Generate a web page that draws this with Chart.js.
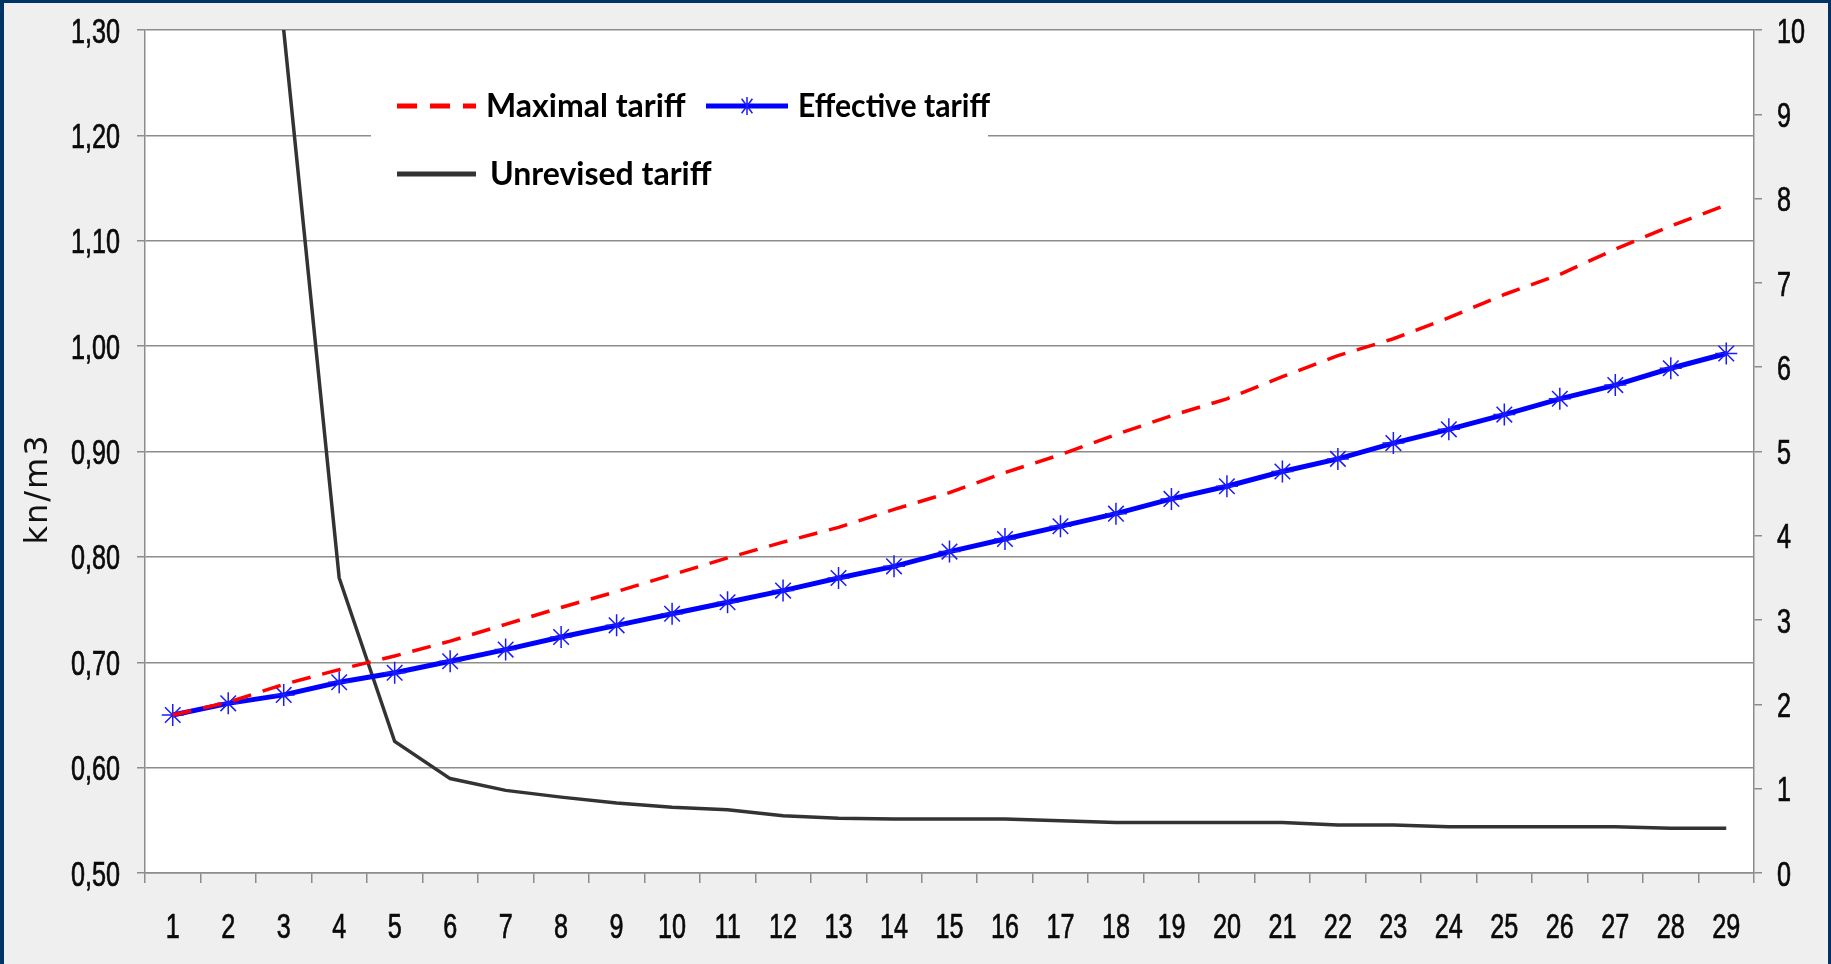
<!DOCTYPE html>
<html>
<head>
<meta charset="utf-8">
<title>Tariff comparison</title>
<script src="https://cdn.jsdelivr.net/npm/chart.js@4.4.1/dist/chart.umd.min.js"></script>
<style>
  html, body { margin: 0; padding: 0; background: #003366; overflow: hidden; }
  #wrap { width: 1831px; height: 964px; }
</style>
</head>
<body>
<div id="wrap"><canvas id="chart" width="1831" height="964"></canvas></div>
<script>
// Year index along the horizontal axis
const years = ['1','2','3','4','5','6','7','8','9','10','11','12','13','14','15',
  '16','17','18','19','20','21','22','23','24','25','26','27','28','29'];

// Left axis tick labels (kn/m3) and right axis tick labels
const leftTickLabels = ['0,50','0,60','0,70','0,80','0,90','1,00','1,10','1,20','1,30'];
const rightTickLabels = ['0','1','2','3','4','5','6','7','8','9','10'];

// Series on the left axis (kn/m3)
const maximalTariff = [0.650, 0.662, 0.679, 0.693, 0.706, 0.720, 0.736, 0.752, 0.767, 0.783,
  0.799, 0.814, 0.828, 0.845, 0.861, 0.880, 0.897, 0.916, 0.934, 0.950,
  0.971, 0.991, 1.007, 1.027, 1.049, 1.068, 1.092, 1.114, 1.134];
const effectiveTariff = [0.650, 0.661, 0.669, 0.681, 0.690, 0.701, 0.712, 0.724, 0.735, 0.746,
  0.757, 0.768, 0.780, 0.791, 0.805, 0.817, 0.829, 0.841, 0.855, 0.867,
  0.881, 0.893, 0.908, 0.921, 0.935, 0.950, 0.963, 0.979, 0.993];

// Series on the right axis
const unrevisedTariff = [25, 15, 10.0, 3.50, 1.56, 1.12, 0.98, 0.90, 0.83, 0.78,
  0.75, 0.68, 0.65, 0.64, 0.64, 0.64, 0.62, 0.60, 0.60, 0.60,
  0.60, 0.57, 0.57, 0.55, 0.55, 0.55, 0.55, 0.53, 0.53];

const GRID = '#8c8c8c';

// Frame, page background and white plotting area
const backdrop = {
  id: 'backdrop',
  beforeDraw(chart) {
    const { ctx, width, height, chartArea: a } = chart;
    ctx.save();
    ctx.fillStyle = '#003366';
    ctx.fillRect(0, 0, width, height);
    ctx.fillStyle = '#efefef';
    ctx.fillRect(4, 3, width - 7, height - 3);
    ctx.fillStyle = '#ffffff';
    ctx.fillRect(a.left, a.top, a.right - a.left, a.bottom - a.top);
    ctx.restore();
  }
};

// Narrow tick labels, placed from each scale's own ticks
const narrowTicks = {
  id: 'narrowTicks',
  afterDraw(chart) {
    const { ctx, scales } = chart;
    const size = 35, squeeze = 0.72, half = size * 0.36;
    ctx.save();
    ctx.fillStyle = '#0a0a0a';
    ctx.strokeStyle = '#0a0a0a';
    ctx.lineWidth = 0.7;
    ctx.font = size + "px 'Liberation Sans', Arial, sans-serif";
    ctx.textBaseline = 'alphabetic';
    const put = (text, x, y, align) => {
      ctx.save();
      ctx.translate(x, y);
      ctx.scale(squeeze, 1);
      ctx.textAlign = align;
      ctx.fillText(text, 0, 0);
      ctx.strokeText(text, 0, 0);
      ctx.restore();
    };
    const y = scales.y, y2 = scales.y2, x = scales.x;
    y.ticks.forEach((t, i) => put(t.label, y.right - 25, y.getPixelForTick(i) + half, 'right'));
    y2.ticks.forEach((t, i) => put(t.label, y2.left + 23, y2.getPixelForTick(i) + half, 'left'));
    x.ticks.forEach((t, i) => put(t.label, x.getPixelForTick(i), x.top + 52 + half, 'center'));
    ctx.restore();
  }
};

// Legend box drawn inside the plotting area
const insetLegend = {
  id: 'insetLegend',
  beforeDatasetsDraw(chart) {
    const { ctx } = chart;
    const ds = chart.data.datasets;
    const slots = [
      { x: 397, y: 106, w: 79, tx: 486 },
      { x: 706, y: 106, w: 82, tx: 798 },
      { x: 397, y: 174, w: 79, tx: 490 }
    ];
    ctx.save();
    ctx.fillStyle = '#ffffff';
    ctx.fillRect(371, 62, 617, 140);
    ds.forEach((d, i) => {
      const s = slots[i];
      ctx.beginPath();
      ctx.strokeStyle = d.borderColor;
      ctx.lineWidth = 5;
      ctx.setLineDash(d.borderDash ? [20, 13] : []);
      ctx.moveTo(s.x, s.y);
      ctx.lineTo(s.x + s.w, s.y);
      ctx.stroke();
      ctx.setLineDash([]);
      if (d.pointStyle === 'star') {
        const cx = s.x + s.w / 2, r = 9;
        ctx.strokeStyle = d.pointBorderColor;
        ctx.lineWidth = 1.5;
        ctx.beginPath();
        ctx.moveTo(cx, s.y - r); ctx.lineTo(cx, s.y + r);
        ctx.moveTo(cx - r * 0.6, s.y - r * 0.8); ctx.lineTo(cx + r * 0.6, s.y + r * 0.8);
        ctx.moveTo(cx - r * 0.6, s.y + r * 0.8); ctx.lineTo(cx + r * 0.6, s.y - r * 0.8);
        ctx.stroke();
      }
      ctx.fillStyle = '#000000';
      ctx.font = "bold 32px Lato, 'Open Sans', sans-serif";
      ctx.textAlign = 'left';
      ctx.textBaseline = 'middle';
      const label = d.label;
      const target = i === 1 ? 192 : null;
      if (target) {
        ctx.save();
        ctx.translate(s.tx, s.y + 1);
        ctx.scale(Math.min(1, target / ctx.measureText(label).width), 1);
        ctx.fillText(label, 0, 0);
        ctx.restore();
      } else {
        ctx.fillText(label, s.tx, s.y + 1);
      }
    });
    ctx.restore();
  }
};

// Left axis unit label
const unitTitle = {
  id: 'unitTitle',
  afterDraw(chart) {
    const { ctx } = chart;
    ctx.save();
    ctx.translate(39, 489);
    ctx.rotate(-Math.PI / 2);
    ctx.fillStyle = '#111111';
    ctx.font = "32px 'DejaVu Sans', sans-serif";
    if ('letterSpacing' in ctx) ctx.letterSpacing = '2px';
    ctx.textAlign = 'center';
    ctx.textBaseline = 'middle';
    ctx.fillText('kn/m3', 0, 0);
    ctx.restore();
  }
};

new Chart(document.getElementById('chart'), {
  type: 'line',
  data: {
    labels: years,
    datasets: [
      {
        label: 'Maximal tariff',
        data: maximalTariff,
        yAxisID: 'y',
        borderColor: '#ff0000',
        borderWidth: 3.5,
        borderDash: [19, 12],
        pointRadius: 0,
        tension: 0,
        clip: 0
      },
      {
        label: 'Effective tariff',
        data: effectiveTariff,
        yAxisID: 'y',
        borderColor: '#0000ff',
        borderWidth: 5,
        pointStyle: 'star',
        pointRadius: 11,
        pointBorderWidth: 1.5,
        pointBorderColor: '#1a1aff',
        pointBackgroundColor: '#1a1aff',
        tension: 0,
        clip: 0
      },
      {
        label: 'Unrevised tariff',
        data: unrevisedTariff,
        yAxisID: 'y2',
        borderColor: '#333333',
        borderWidth: 3.5,
        pointRadius: 0,
        tension: 0,
        clip: 0
      }
    ]
  },
  options: {
    responsive: false,
    animation: false,
    events: [],
    layout: { padding: { top: 30, left: 0, right: 0, bottom: 0 } },
    plugins: { legend: { display: false }, tooltip: { enabled: false } },
    scales: {
      x: {
        type: 'category',
        offset: true,
        grid: { offset: true, drawOnChartArea: false, drawTicks: true, tickLength: 10, color: GRID, lineWidth: 1.5 },
        border: { display: true, color: GRID, width: 1.5 },
        ticks: { display: false, autoSkip: false },
        afterFit(scale) { scale.height = 91; }
      },
      y: {
        position: 'left',
        min: 0.5,
        max: 1.3,
        grid: { color: GRID, lineWidth: 1.5, drawTicks: true, tickLength: 8 },
        border: { display: true, color: GRID, width: 1.5 },
        ticks: {
          display: false,
          stepSize: 0.1,
          callback: (v, i) => leftTickLabels[i]
        },
        afterFit(scale) { scale.width = 145; }
      },
      y2: {
        position: 'right',
        min: 0,
        max: 10,
        grid: { drawOnChartArea: false, color: GRID, lineWidth: 1.5, drawTicks: true, tickLength: 8 },
        border: { display: true, color: GRID, width: 1.5 },
        ticks: {
          display: false,
          stepSize: 1,
          callback: (v, i) => rightTickLabels[i]
        },
        afterFit(scale) { scale.width = 77; }
      }
    }
  },
  plugins: [backdrop, insetLegend, narrowTicks, unitTitle]
});
</script>
</body>
</html>
